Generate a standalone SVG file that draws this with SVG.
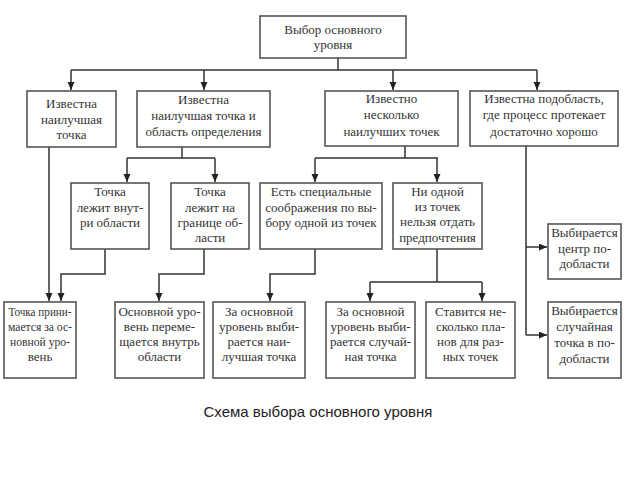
<svg xmlns="http://www.w3.org/2000/svg" width="640" height="480" viewBox="0 0 640 480">
<defs>
<style>
.box{fill:#fff;stroke:#555;stroke-width:1.6}
.t{font-family:'Liberation Serif','Times New Roman',serif;font-size:13px;fill:#333;text-anchor:middle}
.c{fill:none;stroke:#333;stroke-width:1.5}
.cap{font-family:'Liberation Sans',Arial,sans-serif;font-size:15px;fill:#222;text-anchor:middle}
</style>
<marker id="ah" markerUnits="userSpaceOnUse" markerWidth="8" markerHeight="8" refX="8" refY="3.5" orient="auto">
<path d="M0,0 L8,3.5 L0,7 z" fill="#222"/>
</marker>
</defs>
<rect width="640" height="480" fill="#fff"/>

<g id="connectors">
<path class="c" d="M338,58 V70 M71,70 H537"/>
<path class="c" d="M71,70 V90" marker-end="url(#ah)"/>
<path class="c" d="M204,70 V90" marker-end="url(#ah)"/>
<path class="c" d="M393,70 V90" marker-end="url(#ah)"/>
<path class="c" d="M537,70 V90" marker-end="url(#ah)"/>

<path class="c" d="M182,147 V158 M127,158 H215"/>
<path class="c" d="M127,158 V182" marker-end="url(#ah)"/>
<path class="c" d="M215,158 V182" marker-end="url(#ah)"/>
<path class="c" d="M405,146 V158 M315,158 H438"/>
<path class="c" d="M315,158 V182" marker-end="url(#ah)"/>
<path class="c" d="M437,158 V182" marker-end="url(#ah)"/>

<path class="c" d="M49,147 V301" marker-end="url(#ah)"/>
<path class="c" d="M105,249 V274 H61 V301" marker-end="url(#ah)"/>
<path class="c" d="M204,249 V274 H159 V301" marker-end="url(#ah)"/>
<path class="c" d="M315,249 V274 H270 V301" marker-end="url(#ah)"/>
<path class="c" d="M437,249 V282 M370,282 H482"/>
<path class="c" d="M370,282 V301" marker-end="url(#ah)"/>
<path class="c" d="M482,282 V301" marker-end="url(#ah)"/>

<path class="c" d="M526,146 V335"/>
<path class="c" d="M526,247 H547" marker-end="url(#ah)"/>
<path class="c" d="M526,335 H547" marker-end="url(#ah)"/>
</g>

<g id="n0">
<rect class="box" x="260" y="16" width="146" height="42"/>
<text class="t" x="333" y="34">Выбор основного</text>
<text class="t" x="333" y="49">уровня</text>
</g>

<g id="n1">
<rect class="box" x="27" y="91" width="89" height="56"/>
<text class="t" x="71.5" y="108">Известна</text>
<text class="t" x="71.5" y="124">наилучшая</text>
<text class="t" x="71.5" y="139">точка</text>
</g>
<g id="n2">
<rect class="box" x="137" y="91" width="133" height="56"/>
<text class="t" x="203.5" y="104">Известна</text>
<text class="t" x="203.5" y="120">наилучшая точка и</text>
<text class="t" x="203.5" y="136">область определения</text>
</g>
<g id="n3">
<rect class="box" x="325" y="91" width="133" height="55"/>
<text class="t" x="391.5" y="103">Известно</text>
<text class="t" x="391.5" y="119">несколько</text>
<text class="t" x="391.5" y="136">наилучших точек</text>
</g>
<g id="n4">
<rect class="box" x="470" y="91" width="148" height="55"/>
<text class="t" x="544" y="103">Известна подобласть,</text>
<text class="t" x="544" y="119">где процесс протекает</text>
<text class="t" x="544" y="136">достаточно хорошо</text>
</g>

<g id="n5">
<rect class="box" x="71" y="183" width="78" height="66"/>
<text class="t" x="110" y="196">Точка</text>
<text class="t" x="110" y="212">лежит внут-</text>
<text class="t" x="110" y="227">ри области</text>
</g>
<g id="n6">
<rect class="box" x="171" y="183" width="78" height="66"/>
<text class="t" x="210" y="196">Точка</text>
<text class="t" x="210" y="212">лежит на</text>
<text class="t" x="210" y="227">границе об-</text>
<text class="t" x="210" y="242">ласти</text>
</g>
<g id="n7">
<rect class="box" x="260" y="183" width="122" height="66"/>
<text class="t" x="321" y="196">Есть специальные</text>
<text class="t" x="321" y="212">соображения по вы-</text>
<text class="t" x="321" y="227">бору одной из точек</text>
</g>
<g id="n8">
<rect class="box" x="393" y="183" width="89" height="66"/>
<text class="t" x="437.5" y="196">Ни одной</text>
<text class="t" x="437.5" y="211">из точек</text>
<text class="t" x="437.5" y="226">нельзя отдать</text>
<text class="t" x="437.5" y="242">предпочтения</text>
</g>

<g id="n9">
<rect class="box" x="548" y="224" width="73" height="55"/>
<text class="t" x="584.5" y="237">Выбирается</text>
<text class="t" x="584.5" y="253">центр по-</text>
<text class="t" x="584.5" y="268">добласти</text>
</g>

<g id="n10">
<rect class="box" x="4" y="302" width="72" height="76"/>
<text class="t" x="40" y="316" textLength="63" lengthAdjust="spacingAndGlyphs">Точка прини-</text>
<text class="t" x="40" y="331" textLength="64" lengthAdjust="spacingAndGlyphs">мается за ос-</text>
<text class="t" x="40" y="346" textLength="60" lengthAdjust="spacingAndGlyphs">новной уро-</text>
<text class="t" x="40" y="361">вень</text>
</g>
<g id="n11">
<rect class="box" x="115" y="302" width="89" height="76"/>
<text class="t" x="159.5" y="316">Основной уро-</text>
<text class="t" x="159.5" y="331">вень переме-</text>
<text class="t" x="159.5" y="346">щается внутрь</text>
<text class="t" x="159.5" y="361">области</text>
</g>
<g id="n12">
<rect class="box" x="213" y="302" width="92" height="76"/>
<text class="t" x="259" y="316">За основной</text>
<text class="t" x="259" y="331">уровень выби-</text>
<text class="t" x="259" y="346">рается наи-</text>
<text class="t" x="259" y="361">лучшая точка</text>
</g>
<g id="n13">
<rect class="box" x="326" y="302" width="89" height="76"/>
<text class="t" x="370.5" y="316">За основной</text>
<text class="t" x="370.5" y="331">уровень выби-</text>
<text class="t" x="370.5" y="346">рается случай-</text>
<text class="t" x="370.5" y="361">ная точка</text>
</g>
<g id="n14">
<rect class="box" x="426" y="302" width="89" height="76"/>
<text class="t" x="470.5" y="316">Ставится не-</text>
<text class="t" x="470.5" y="331">сколько пла-</text>
<text class="t" x="470.5" y="346">нов для раз-</text>
<text class="t" x="470.5" y="361">ных точек</text>
</g>
<g id="n15">
<rect class="box" x="548" y="302" width="73" height="76"/>
<text class="t" x="584.5" y="315">Выбирается</text>
<text class="t" x="584.5" y="331">случайная</text>
<text class="t" x="584.5" y="347">точка в по-</text>
<text class="t" x="584.5" y="363">добласти</text>
</g>

<text class="cap" x="318" y="417">Схема выбора основного уровня</text>
</svg>
